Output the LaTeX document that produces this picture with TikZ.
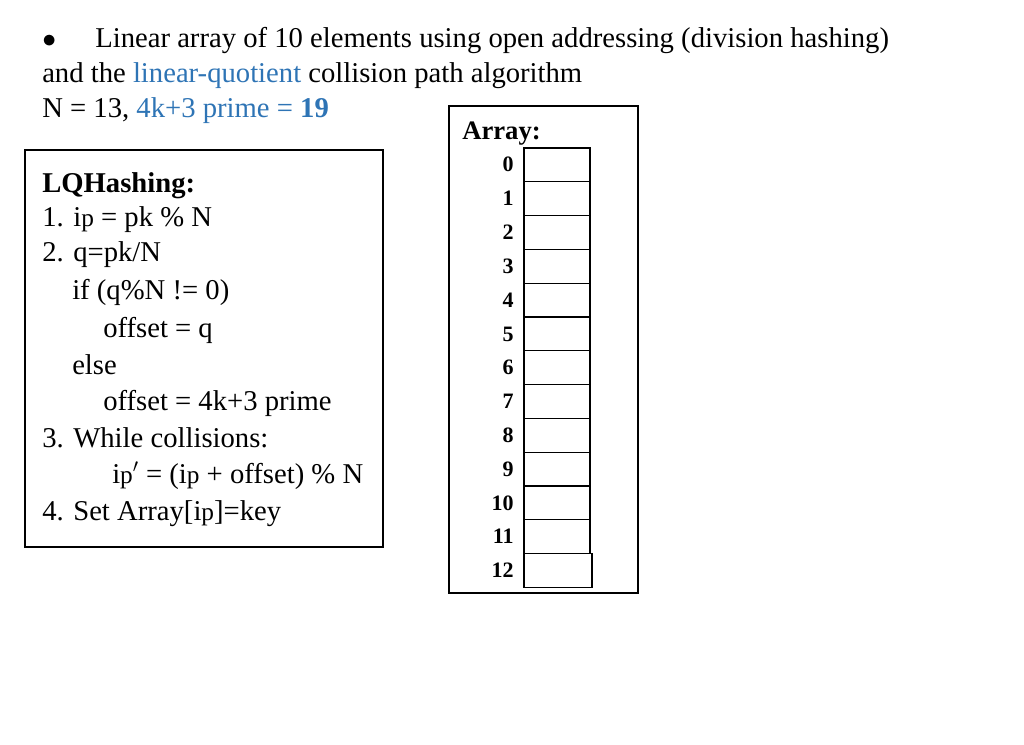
\documentclass[tikz,border=0pt]{standalone}
\usepackage{fontspec}
\setmainfont{Liberation Serif}
\definecolor{blu}{RGB}{46,116,181}
\newcommand{\ipx}{i{\fontsize{19}{19}\selectfont p}}
\begin{document}
\begin{tikzpicture}[x=0.75pt,y=-0.75pt,
  txt/.style={anchor=base west,inner sep=0pt,font=\fontsize{21.5}{25}\selectfont},
  num/.style={anchor=base east,inner sep=0pt,font=\fontsize{16.5}{20}\selectfont\bfseries},
  cell/.style={draw,line width=0.9pt}]
\useasboundingbox (0,0) rectangle (1024,745);
\node[txt] (b) at (42,48) {$\bullet$};
\node[txt] (l1) at (95,48) {Linear array of 10 elements using open addressing (division hashing)};
\node[txt] (l2) at (42,83) {and the \textcolor{blu}{linear-quotient} collision path algorithm};
\node[txt] (l3) at (42,118) {N = 13, \textcolor{blu}{4k+3 prime = \textbf{19}}};
% LQ box
\draw[line width=0.8pt] (25,150) rectangle (383,547);
\node[txt] (t0) at (42,193) {\textbf{LQHashing:}};
\node[txt] (t1) at (42,227) {1. \ipx{} = pk \% N};
\node[txt] (t2) at (42,262) {2. q=pk/N};
\node[txt] (t3) at (72,300) {if (q\%N != 0)};
\node[txt] (t4) at (103,337) {offset = q};
\node[txt] (t5) at (72,374) {else};
\node[txt] (t6) at (103,410) {offset = 4k+3 prime};
\node[txt] (t7) at (42,447) {3. While collisions:};
\node[txt] (t8) at (112,483) {\ipx$'$ = (\ipx{} + offset) \% N};
\node[txt] (t9) at (42,520) {4. Set Array[\ipx]=key};
% Array box
\draw[line width=0.8pt] (449,106) rectangle (638,593);
\node[txt,font=\fontsize{20}{24}\selectfont\bfseries] (at) at (462,140) {Array:};
\foreach \i in {0,...,12}{
  \pgfmathsetmacro{\yt}{148+33.8*\i}
  \pgfmathsetmacro{\yb}{148+33.8*(\i+1)}
  \ifnum\i=12
    \draw[cell] (524,\yt) rectangle (592,\yb);
  \else
    \draw[cell] (524,\yt) rectangle (590,\yb);
  \fi
  \node[num] (n\i) at (514,{\yt+24}) {\i};
}
\end{tikzpicture}
\end{document}
